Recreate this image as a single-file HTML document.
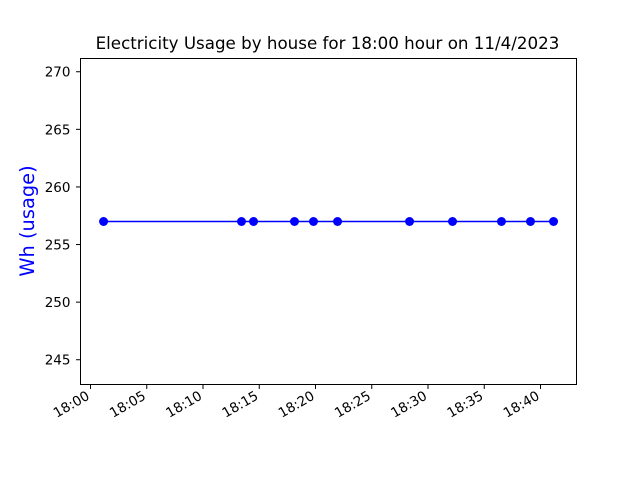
<!DOCTYPE html>
<html><head><meta charset="utf-8"><style>
html,body{margin:0;padding:0;background:#fff;}
svg{display:block;font-family:"DejaVu Sans","Liberation Sans",sans-serif;}
</style></head><body>
<svg id="chart" width="640" height="480" viewBox="0 0 640 480" xmlns="http://www.w3.org/2000/svg">
<rect width="640" height="480" fill="#fff"/>
<text x="327.5" y="49" font-size="16.7" text-anchor="middle" fill="#000">Electricity Usage by house for 18:00 hour on 11/4/2023</text>
<text transform="translate(34,221) rotate(-90)" font-size="19.4" text-anchor="middle" fill="blue">Wh (usage)</text>
<g id="ticks"></g>
<g id="series"></g>
<rect x="80.5" y="58.5" width="496" height="326" fill="none" stroke="#000" stroke-width="1"/>
</svg>
<script>
const minutes = [1.16, 13.42, 14.49, 18.13, 19.82, 21.96, 28.36, 32.18, 36.53, 39.11, 41.16];
const usage = [257, 257, 257, 257, 257, 257, 257, 257, 257, 257, 257];
const xTickValues = [0, 5, 10, 15, 20, 25, 30, 35, 40];
const xTickLabels = ["18:00","18:05","18:10","18:15","18:20","18:25","18:30","18:35","18:40"];
const yTickValues = [245, 250, 255, 260, 265, 270];

const L=80.5,R=576.5,T=58.5,B=384.5;
const xMin=-0.89,xMax=43.2,yMin=242.85,yMax=271.15;
const xs=v=>L+(v-xMin)/(xMax-xMin)*(R-L);
const ys=v=>B-(v-yMin)/(yMax-yMin)*(B-T);
const NS="http://www.w3.org/2000/svg";
const tg=document.getElementById('ticks'), sg=document.getElementById('series');
function mk(tag,attrs,parent){const e=document.createElementNS(NS,tag);for(const k in attrs)e.setAttribute(k,attrs[k]);parent.appendChild(e);return e;}

xTickValues.forEach((v,i)=>{
  const x=xs(v);
  const ln=mk('line',{x1:x,x2:x,y1:B,y2:B+4.5,stroke:'#000'},tg);
  
  
  const t=mk('text',{x:x,y:B+14,'font-size':'13.5','text-anchor':'end',transform:`rotate(-30 ${x} ${B+14})`},tg);
  t.textContent=xTickLabels[i];
  
  
});
yTickValues.forEach(v=>{
  const y=ys(v);
  const ln=mk('line',{x1:L-4.5,x2:L,y1:y,y2:y,stroke:'#000'},tg);
  
  
  const t=mk('text',{x:L-10,y:y+5,'font-size':'13.5','text-anchor':'end'},tg);
  t.textContent=String(v);
  
  
});
const pts=minutes.map((m,i)=>xs(m)+','+ys(usage[i])).join(' ');
const pl=mk('polyline',{points:pts,fill:'none',stroke:'blue','stroke-width':'1.5'},sg);


minutes.forEach((m,i)=>{
  const c=mk('circle',{cx:xs(m),cy:ys(usage[i]),r:4.5,fill:'blue'},sg);
  
  
});
</script>
</body></html>
